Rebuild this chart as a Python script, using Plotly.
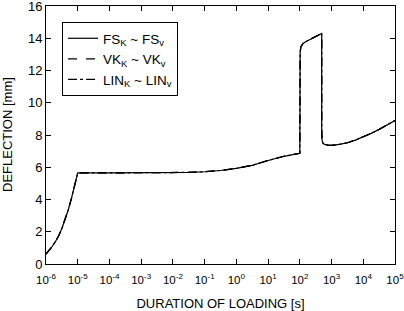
import plotly.graph_objects as go

# exponent of duration of loading (log10 s) and deflection (mm)
log_duration = [-6.0, -5.9, -5.8, -5.7, -5.6, -5.5, -5.4, -5.3, -5.2, -5.1, -5.0,
                -4.0, -3.0, -2.0, -1.5, -1.0, -0.5, 0.0, 0.5, 1.0, 1.5, 2.0,
                2.0, 2.01, 2.03, 2.06, 2.1, 2.2, 2.4, 2.6, 2.69,
                2.69, 2.70, 2.73, 2.8, 2.9, 3.0, 3.25, 3.5, 3.75, 4.0, 4.25, 4.5, 4.75, 5.0]
deflection_fs = [0.62, 0.85, 1.1, 1.4, 1.75, 2.2, 2.75, 3.35, 4.05, 4.8, 5.65,
                 5.65, 5.65, 5.66, 5.68, 5.72, 5.8, 5.93, 6.12, 6.42, 6.68, 6.87,
                 12.3, 13.1, 13.45, 13.6, 13.68, 13.8, 14.02, 14.22, 14.3,
                 8.3, 7.7, 7.48, 7.4, 7.37, 7.36, 7.42, 7.52, 7.68, 7.88, 8.1, 8.35, 8.6, 8.9]
deflection_vk = list(deflection_fs)
deflection_lin = list(deflection_fs)

tick_exponents = [-6, -5, -4, -3, -2, -1, 0, 1, 2, 3, 4, 5]
tick_labels = ["10<sup>%d</sup>" % e for e in tick_exponents]

duration = [10 ** e for e in log_duration]
tick_vals = [10 ** e for e in tick_exponents]

FONT = "Liberation Sans, Arial, sans-serif"

fig = go.Figure()
fig.add_trace(go.Scatter(x=duration, y=deflection_lin, mode="lines",
                         line=dict(color="black", width=1.2, dash="dashdot"),
                         name="LIN<sub>K</sub> ~ LIN<sub>v</sub>", legendrank=3))
fig.add_trace(go.Scatter(x=duration, y=deflection_vk, mode="lines",
                         line=dict(color="black", width=1.2, dash="dash"),
                         name="VK<sub>K</sub> ~ VK<sub>v</sub>", legendrank=2))
fig.add_trace(go.Scatter(x=duration, y=deflection_fs, mode="lines",
                         line=dict(color="black", width=1.2),
                         name="FS<sub>K</sub> ~ FS<sub>v</sub>", legendrank=1))

fig.update_layout(
    width=404, height=311,
    margin=dict(l=46, r=9, t=6, b=47, autoexpand=False),
    paper_bgcolor="white", plot_bgcolor="white",
    font=dict(family=FONT, size=12, color="black"),
    showlegend=True,
    legend=dict(x=0.046, y=0.938, xanchor="left", yanchor="top",
                bordercolor="black", borderwidth=1, bgcolor="white",
                font=dict(size=13.5), tracegroupgap=0, itemwidth=30),
    annotations=[dict(text="DEFLECTION [mm]", xref="paper", yref="paper",
                      x=(7 - 46) / 349, y=0.5, xanchor="center", yanchor="middle",
                      textangle=-90, showarrow=False, font=dict(size=13))],
)
fig.update_xaxes(type="log", range=[-6, 5], tickvals=tick_vals, ticktext=tick_labels,
                 showline=True, linecolor="black", linewidth=1, mirror="ticks",
                 ticks="inside", ticklen=5, tickcolor="black", showgrid=False, zeroline=False,
                 tickfont=dict(size=11.5), ticklabeloverflow="allow", automargin=False,
                 ticklabelstandoff=5,
                 title=dict(text="DURATION OF LOADING [s]", font=dict(size=13), standoff=15))
fig.update_yaxes(range=[0, 16], dtick=2,
                 showline=True, linecolor="black", linewidth=1, mirror="ticks",
                 ticks="inside", ticklen=5, tickcolor="black", showgrid=False, zeroline=False,
                 tickfont=dict(size=13), ticklabeloverflow="allow", automargin=False)

fig.write_html("out.html", config={"displayModeBar": False},
               post_script="document.body.style.margin='0px';")
